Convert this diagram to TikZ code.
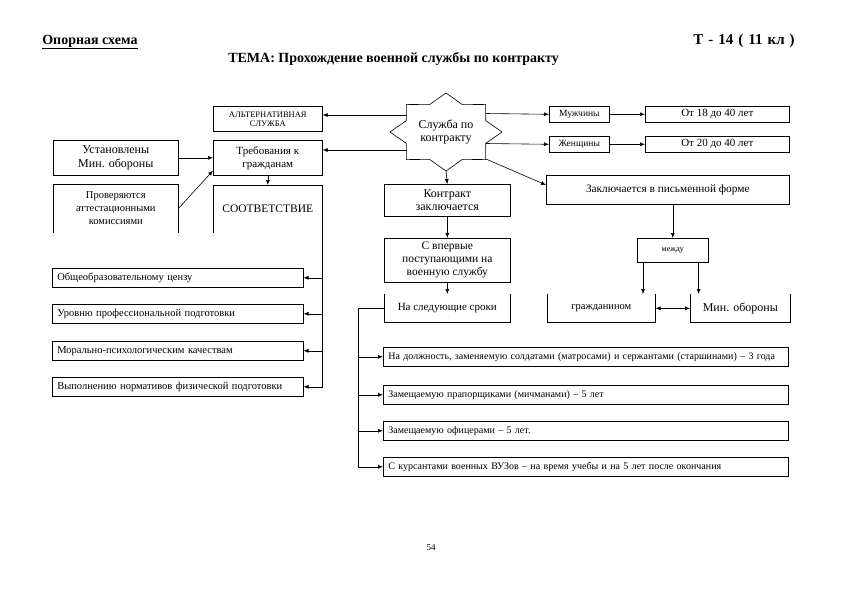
\documentclass[tikz,border=0pt]{standalone}
\usepackage{fontspec}
\setmainfont{Liberation Serif}
\usetikzlibrary{positioning,arrows.meta}

\begin{document}
\begin{tikzpicture}[x=1pt, y=-1pt, line width=0.6pt, >={Latex[length=5pt,width=4pt]},
  box/.style={draw, inner sep=1pt, align=center, anchor=north west},
  open/.style={inner sep=1pt, align=center, anchor=north west},
  lbox/.style={box, align=left, inner xsep=5pt, minimum height=19pt},
  head/.style={inner sep=0pt, font=\fontsize{14}{16}\selectfont\bfseries},
  fs/.style 2 args={font=\fontsize{#1}{#2}\selectfont}]
\useasboundingbox (0,0) rectangle (841,595);

% header
\node[head, anchor=base west] (opor) at (42,44) {\underline{Опорная схема}};
\node[head, anchor=base east] (tnum) at (795,44) {\fontsize{15}{16}\selectfont\spaceskip=5pt\relax Т - 14 ( 11 кл )};
\node[head, anchor=base west] (tema) at (228,62) {ТЕМА: Прохождение военной службы по контракту};

% left column
\node[box, minimum width=109pt, minimum height=25pt, fs={8.5}{9}] (alt) at (213,106) {АЛЬТЕРНАТИВНАЯ\\СЛУЖБА};
\node[box, minimum width=109pt, minimum height=35pt, fs={11}{13}] (treb) at (213,140) {Требования к\\гражданам};
\node[open, minimum width=109pt, minimum height=47pt, fs={11.5}{13}] (sootv) at (213,185) {СООТВЕТСТВИЕ};
\node[box, minimum width=125pt, minimum height=35pt, fs={12}{14}] (ustan) at (53,140) {Установлены\\Мин. обороны};
\node[open, minimum width=125pt, minimum height=48pt, fs={10.5}{13}] (prov) at (53,184) {Проверяются\\аттестационными\\комиссиями};

\node[lbox, text width=241pt, fs={10.5}{12}] (req1) at (52,268) {Общеобразовательному цензу};
\node[lbox, text width=241pt, fs={10.5}{12}] (req2) at (52,304) {Уровню профессиональной подготовки};
\node[lbox, text width=241pt, fs={10.5}{12}] (req3) at (52,341) {Морально-психологическим качествам};
\node[lbox, text width=241pt, fs={10.5}{12}] (req4) at (52,377) {Выполнению нормативов физической подготовки};

% centre
\node[align=center, fs={12}{13.5}] (star) at (446,132) {Служба по\\контракту};
\draw[shift={(446,132)}] (0:56pt and 39pt)
  \foreach \a in {0,45,...,315} { -- (\a+22.5:43pt and 29.6pt) -- (\a+45:56pt and 39pt) } -- cycle;
\coordinate (sA) at (406,115); % star outline points
\coordinate (sB) at (406,150);
\coordinate (sC) at (486,113.5);
\coordinate (sD) at (486,143.5);
\coordinate (sE) at (486,159);
\coordinate (sF) at (446,171);

\node[box, minimum width=126pt, minimum height=32pt, fs={12}{13}] (kontr) at (384,184) {Контракт\\заключается};
\node[box, minimum width=126pt, minimum height=44pt, fs={11.5}{13}] (vperv) at (384,238) {С впервые\\поступающими на\\военную службу};
\node[open, minimum width=126pt, minimum height=28pt, fs={11}{13}] (sled) at (384,294) {На следующие сроки};

\node[lbox, text width=395pt, fs={10}{11}] (term1) at (383,347) {На должность, заменяемую солдатами (матросами) и сержантами (старшинами) – 3 года};
\node[lbox, text width=395pt, fs={10}{11}] (term2) at (383,385) {Замещаемую прапорщиками (мичманами) – 5 лет};
\node[lbox, text width=395pt, fs={10}{11}] (term3) at (383,421) {Замещаемую офицерами – 5 лет.};
\node[lbox, text width=395pt, fs={10}{11}] (term4) at (383,457) {С курсантами военных ВУЗов – на время учебы и на 5 лет после окончания};

% right column
\node[box, minimum width=60pt, minimum height=16pt, fs={9.5}{10}] (muzh) at (549,106) {Мужчины};
\node[box, minimum width=60pt, minimum height=16pt, fs={9.5}{10}] (zhen) at (549,136) {Женщины};
\node[box, minimum width=144pt, minimum height=16pt, fs={11}{11}] (ot18) at (645,106) {От 18 до 40 лет};
\node[box, minimum width=144pt, minimum height=16pt, fs={11}{11}] (ot20) at (645,136) {От 20 до 40 лет};
\node[box, minimum width=243pt, minimum height=29pt, fs={11.3}{12}] (zakl) at (546,175) {Заключается в письменной форме};
\node[box, minimum width=71pt, minimum height=24pt, fs={8}{9}] (mezhdu) at (637,238) {между};
\node[open, minimum width=108pt, minimum height=28pt, fs={10.5}{12}] (grazh) at (547,294) {гражданином};
\node[open, minimum width=100pt, minimum height=28pt, fs={12}{13}] (minob) at (690,294) {Мин. обороны};

\node[fs={9}{10}] (page) at (431,548) {54};

% open boxes
\draw (sootv.south west) -- (sootv.north west) -- (sootv.north east);
\draw (prov.south west) -- (prov.north west) -- (prov.north east) -- (prov.south east);
\foreach \b in {sled,grazh,minob}
  \draw (\b.north west) -- (\b.south west) -- (\b.south east) -- (\b.north east);

% connectors
\draw[->] (ustan.east) -- (ustan.east -| treb.west);
\draw[->] (prov.east) -- ([yshift=5pt]treb.south west);
\draw[->] (treb.south) -- (sootv.north);
\draw[->] (sA) -- (sA -| alt.east);
\draw[->] (sB) -- (sB -| treb.east);
\draw[->] (sC) -- (muzh.west);
\draw[->] (sD) -- (zhen.west);
\draw[->] (sE) -- ([yshift=-10pt]zakl.north west);
\draw[->] (muzh.east) -- (ot18.west);
\draw[->] (zhen.east) -- (ot20.west);
\draw[->] (sF) -- (kontr.north);
\draw[->] (kontr.south) -- (vperv.north);
\draw[->] (vperv.south) -- (sled.north);
\draw[->] (mezhdu.north |- zakl.south) -- (mezhdu.north);
\draw[->] ([xshift=6pt]mezhdu.south west) -- ([xshift=6pt]mezhdu.south west |- grazh.north);
\draw[->] ([xshift=-10pt]mezhdu.south east) -- ([xshift=-10pt]mezhdu.south east |- minob.north);
\draw[<->] (grazh.east) -- (minob.west);

% requirements branch
\draw (sootv.north east) -- (sootv.east |- req4.east);
\foreach \r in {req1,req2,req3,req4}
  \draw[->] (sootv.east |- \r.east) -- (\r.east);

% terms branch
\draw (sled.west) -- ++(-26,0) coordinate (sb) -- (sb |- term4.west);
\foreach \t in {term1,term2,term3,term4}
  \draw[->] (sb |- \t.west) -- (\t.west);
\end{tikzpicture}
\end{document}
